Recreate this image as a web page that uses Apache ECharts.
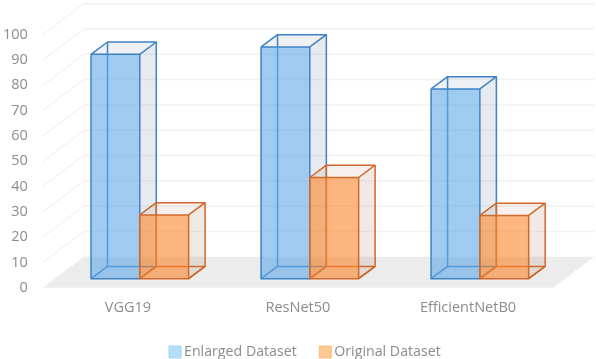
<!DOCTYPE html>
<html><head><meta charset="utf-8">
<style>html,body{margin:0;padding:0;background:#fff}#c{width:596px;height:359px}</style>
<script src="https://cdn.jsdelivr.net/npm/echarts@6/dist/echarts.min.js"></script>
</head><body><div id="c"></div>
<script>
const categories = ['VGG19', 'ResNet50', 'EfficientNetB0'];
const enlarged = [88.7, 91.6, 75];
const original = [25.2, 40, 25];
const yTicks = [0,10,20,30,40,50,60,70,80,90,100];

const WALL = [41, -31], BAR_SHIFT = [11.9, -9], DEPTH = [16.5, -12.3], BAR_W = 48.8;

function wallItem(params, api) {
  const cs = params.coordSys;
  const v = api.value(0);
  const p = api.coord([0, v]);
  const x0 = cs.x, x1 = cs.x + cs.width, y = p[1];
  return { type: 'group', children: [
    { type: 'polyline', shape: { points: [[x0, y], [x0 + WALL[0], y + WALL[1]]] },
      style: { stroke: '#f3f3f3', lineWidth: 1.3, fill: null } },
    { type: 'polyline', shape: { points: [[x0 + WALL[0], y + WALL[1]], [x1 + WALL[0], y + WALL[1]]] },
      style: { stroke: '#f2f2f2', lineWidth: 1.5, fill: null } }
  ]};
}
function floorItem(params, api) {
  const cs = params.coordSys;
  const y = api.coord([0, 0])[1];
  const x0 = cs.x, x1 = cs.x + cs.width;
  return { type: 'polygon', shape: { points: [[x0, y], [x1, y], [x1 + WALL[0], y + WALL[1]], [x0 + WALL[0], y + WALL[1]]] },
    style: { fill: '#ececec' } };
}
function barRenderer(offset, front, side, top, edge) {
  return function (params, api) {
    const i = api.value(0);
    const c = api.coord([i, api.value(1)]);
    const b = api.coord([i, 0]);
    const l = c[0] + BAR_SHIFT[0] + offset * BAR_W;
    const r = l + BAR_W;
    const t = c[1] + BAR_SHIFT[1];
    const g = b[1] + BAR_SHIFT[1];
    const dx = DEPTH[0], dy = DEPTH[1];
    const poly = (pts, fill) => ({ type: 'polygon', shape: { points: pts }, style: { fill: fill, stroke: null } });
    const line = pts => ({ type: 'polyline', shape: { points: pts }, style: { stroke: edge, lineWidth: 1.5, fill: null, lineJoin: 'round' } });
    return { type: 'group', children: [
      poly([[r, t], [r + dx, t + dy], [r + dx, g + dy], [r, g]], side),
      poly([[l, t], [r, t], [r + dx, t + dy], [l + dx, t + dy]], top),
      line([[l, g], [l + dx, g + dy], [r + dx, g + dy], [r, g]]),
      line([[l + dx, g + dy], [l + dx, t + dy]]),
      poly([[l, t], [r, t], [r, g], [l, g]], front),
      line([[l, t], [r, t], [r, g], [l, g], [l, t]]),
      line([[l, t], [l + dx, t + dy], [r + dx, t + dy], [r, t]]),
      line([[r + dx, t + dy], [r + dx, g + dy], [r, g]])
    ]};
  };
}
const chart = echarts.init(document.getElementById('c'), null, { renderer: 'canvas' });
const font = '"Open Sans"';
chart.setOption({
  animation: false,
  backgroundColor: '#fff',
  legend: {
    left: 163.5, top: 340, itemWidth: 12, itemHeight: 12, itemGap: 22, icon: 'rect',
    textStyle: { color: '#8c8c8c', fontFamily: font, fontSize: 14.2, padding: [0, 0, 0, -2] },
    data: [
      { name: 'Enlarged Dataset', itemStyle: { color: '#b5defa', borderColor: '#a6d4f5', borderWidth: 1 } },
      { name: 'Original Dataset', itemStyle: { color: '#fdc990', borderColor: '#fbbd82', borderWidth: 1 } }
    ]
  },
  grid: { left: 41, width: 512, top: 34.7, height: 253 },
  xAxis: { type: 'category', data: categories,
    axisLine: { show: false }, axisTick: { show: false }, splitLine: { show: false },
    axisLabel: { color: '#8c8c8c', fontFamily: font, fontSize: 14.5, margin: 13 } },
  yAxis: { type: 'value', min: 0, max: 100, interval: 10,
    axisLine: { show: false }, axisTick: { show: false }, splitLine: { show: false },
    axisLabel: { color: '#8c8c8c', fontFamily: font, fontSize: 14.5, margin: 15 } },
  series: [
    { type: 'custom', name: 'floor', silent: true, renderItem: floorItem, data: [[0]], encode: { y: 0 }, z: 1, clip: false },
    { type: 'custom', name: 'wall', silent: true, renderItem: wallItem, data: yTicks.filter(v => v > 0).map(v => [v]), encode: { y: 0 }, z: 1, clip: false },
    { type: 'custom', name: 'Enlarged Dataset', itemStyle: { color: '#b5defa' }, z: 2, clip: false,
      renderItem: barRenderer(-1, 'rgba(95,168,232,0.6)', 'rgba(115,135,160,0.17)', 'rgba(115,135,160,0.12)', '#3f82c4'),
      data: enlarged.map((v, i) => [i, v]), encode: { x: 0, y: 1 } },
    { type: 'custom', name: 'Original Dataset', itemStyle: { color: '#fdc990' }, z: 3, clip: false,
      renderItem: barRenderer(0, 'rgba(252,133,42,0.6)', 'rgba(170,120,85,0.16)', 'rgba(170,120,85,0.1)', '#d0692b'),
      data: original.map((v, i) => [i, v]), encode: { x: 0, y: 1 } }
  ]
});
</script></body></html>
